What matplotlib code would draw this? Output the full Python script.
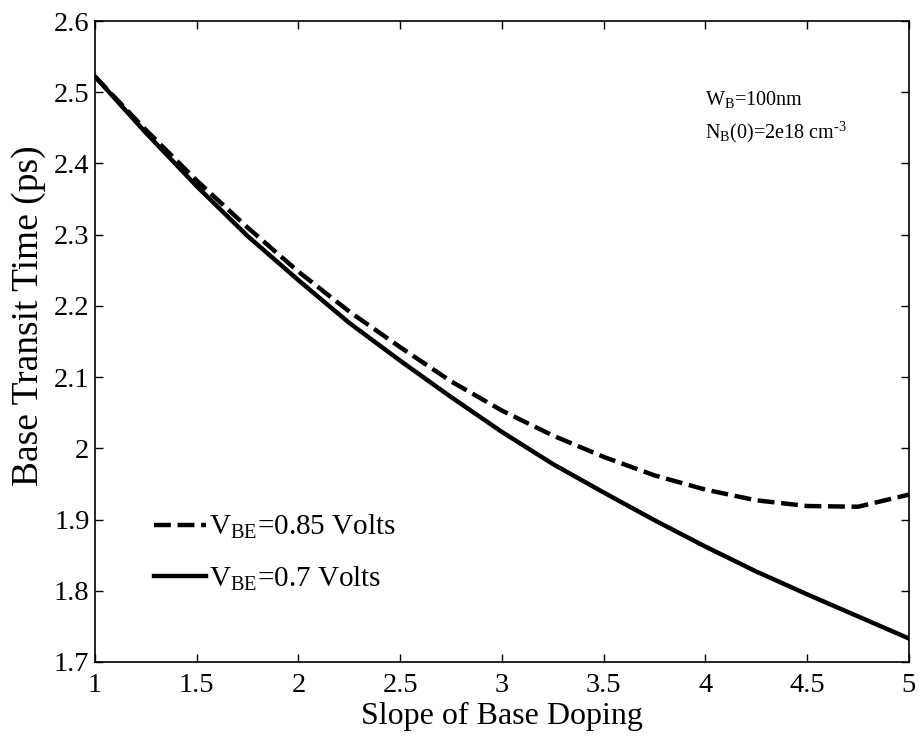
import matplotlib.pyplot as plt

plt.rcParams['font.family'] = 'Liberation Serif'
plt.rcParams['mathtext.fontset'] = 'custom'
plt.rcParams['mathtext.rm'] = 'Liberation Serif'
plt.rcParams['mathtext.it'] = 'Liberation Serif:italic'

slope = [1.0, 1.25, 1.5, 1.75, 2.0, 2.25, 2.5, 2.75, 3.0, 3.25, 3.5, 3.75, 4.0, 4.25, 4.5, 4.75, 5.0]
tau_085 = [2.522, 2.447, 2.376, 2.310, 2.248, 2.192, 2.142, 2.094, 2.053, 2.018, 1.988, 1.962, 1.942, 1.927, 1.919, 1.918, 1.935]
tau_07 = [2.522, 2.443, 2.368, 2.298, 2.236, 2.176, 2.123, 2.072, 2.023, 1.978, 1.938, 1.899, 1.862, 1.827, 1.795, 1.764, 1.733]

fig = plt.figure(figsize=(9.19, 7.38), dpi=100)
ax = fig.add_axes([0.1034, 0.103, 0.8856, 0.8685])

ax.plot(slope, tau_085, 'k--', lw=3.2, dashes=(3.8, 1.5), label=r'V$_{\rm BE}$=0.85 Volts')
ax.plot(slope, tau_07, 'k-', lw=3.2, label=r'V$_{\rm BE}$=0.7 Volts')

ax.set_xlim(1, 5)
ax.set_ylim(1.7, 2.6)
ax.set_xticks([1, 1.5, 2, 2.5, 3, 3.5, 4, 4.5, 5])
ax.set_xticklabels(['1', '1.5', '2', '2.5', '3', '3.5', '4', '4.5', '5'])
ax.set_yticks([1.7, 1.8, 1.9, 2.0, 2.1, 2.2, 2.3, 2.4, 2.5, 2.6])
ax.set_yticklabels(['1.7', '1.8', '1.9', '2', '2.1', '2.2', '2.3', '2.4', '2.5', '2.6'])
ax.tick_params(direction='in', top=True, right=True, length=6, width=1, labelsize=20.5)
ax.tick_params(axis='x', pad=8)
ax.tick_params(axis='y', pad=4)
for s in ax.spines.values():
    s.set_linewidth(1.2)

ax.set_xlabel('Slope of Base Doping', fontsize=23, labelpad=3)
ax.set_ylabel('Base Transit Time (ps)', fontsize=27)
ax.yaxis.set_label_coords(-0.060, 0.54)

ax.text(4.0, 2.482, r'W$_{\rm B}$=100nm', fontsize=14.5)
ax.text(4.0, 2.436, r'N$_{\rm B}$(0)=2e18 cm$^{\text{-3}}$', fontsize=14.5)

ax.legend(loc='lower left', bbox_to_anchor=(0.04, 0.067), frameon=False, fontsize=21,
          handlelength=1.8, handletextpad=0.1, labelspacing=0.8)

fig.savefig('out.png', dpi=100)
